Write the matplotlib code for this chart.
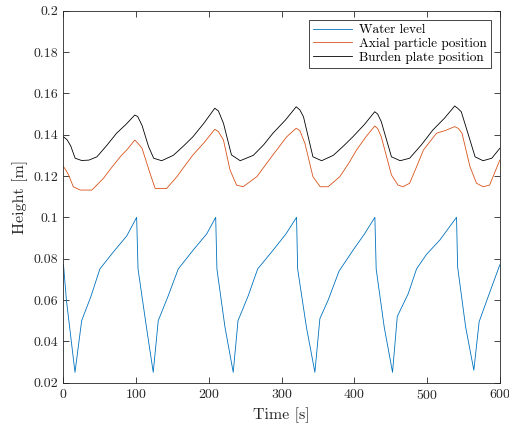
import matplotlib
matplotlib.use('Agg')
import matplotlib.pyplot as plt

# values
water_t = [0, 4, 15.8, 25, 38, 50, 68, 87, 100.6, 102.5, 114, 123.4,
           130.3, 144, 157.8, 178, 197, 209.3, 211, 222, 233.4,
           240, 254, 267, 288, 306, 320.5, 322, 334, 345.7,
           352.6, 364, 379, 398, 414, 428.2, 430, 441, 452.5,
           459, 474, 485.5, 499, 517.5, 540.5, 542, 553, 564.3,
           571.6, 584, 600]
water_h = [0.077, 0.06, 0.025, 0.05, 0.062, 0.075, 0.083, 0.091, 0.1, 0.075, 0.047, 0.025,
           0.05, 0.062, 0.075, 0.084, 0.092, 0.1, 0.075, 0.047, 0.025,
           0.05, 0.062, 0.075, 0.084, 0.092, 0.1, 0.075, 0.047, 0.025,
           0.051, 0.060, 0.074, 0.084, 0.092, 0.1, 0.075, 0.047, 0.025,
           0.052, 0.063, 0.075, 0.082, 0.089, 0.1, 0.076, 0.047, 0.026,
           0.0495, 0.0616, 0.077]

particle_t = [0, 3, 7, 13.5, 23, 39, 55, 66, 78, 88, 98, 102, 108, 119, 126,
              142, 156, 167, 178, 193, 208, 213, 220, 229, 238, 247,
              266, 277, 288, 307, 320, 325, 332, 343, 353, 364,
              380, 392, 403, 416, 428, 432, 437, 451, 460, 467,
              476, 485, 495, 513, 525, 538, 543, 548, 559, 568, 577, 586, 600]
particle_h = [0.1245, 0.123, 0.1205, 0.1148, 0.1132, 0.1132, 0.1189, 0.124, 0.1293, 0.133,
              0.1374, 0.136, 0.1334, 0.1213, 0.114,
              0.114, 0.1197, 0.125, 0.1302, 0.136, 0.1426, 0.1415, 0.1374, 0.1229, 0.1156, 0.1148,
              0.1197, 0.125, 0.1302, 0.139, 0.1431, 0.142, 0.1358, 0.1197, 0.1148, 0.1148,
              0.1197, 0.126, 0.1326, 0.139, 0.1442, 0.143, 0.139, 0.1205, 0.1156, 0.1148,
              0.1165, 0.124, 0.1326, 0.1407, 0.142, 0.1439, 0.143, 0.1407, 0.1245, 0.1165,
              0.1148, 0.1156, 0.1277]

plate_t = [0, 5, 10, 16, 25, 35, 46, 60, 73, 86, 98, 102, 108, 117, 124,
           135, 151, 165, 178, 193, 208, 213, 220, 231, 243,
           261, 275, 288, 305, 320, 325, 330, 343, 355,
           371, 385, 398, 414, 428, 432, 437, 451, 463,
           476, 492, 508, 524, 538, 542, 547, 559, 566, 577, 589, 600]
plate_h = [0.139, 0.1375, 0.1345, 0.1286, 0.1275, 0.1277, 0.1293, 0.135, 0.1407, 0.145,
           0.1495, 0.1488, 0.1445, 0.1342, 0.1286,
           0.1274, 0.130, 0.1345, 0.139, 0.1455, 0.1528, 0.1515, 0.1455, 0.1302, 0.1274,
           0.130, 0.135, 0.1407, 0.147, 0.1535, 0.152, 0.1487, 0.1293, 0.1274,
           0.130, 0.1345, 0.139, 0.145, 0.1511, 0.150, 0.1463, 0.1293, 0.1274,
           0.1286, 0.135, 0.1423, 0.148, 0.1539, 0.1528, 0.1511, 0.1374, 0.1293, 0.1274,
           0.1286, 0.1334]

labels = ['Water level', 'Axial particle position', 'Burden plate position']
colors = ['#0072BD', '#D95319', 'black']

plt.rcParams['font.family'] = 'serif'
plt.rcParams['font.serif'] = ['cmr10', 'DejaVu Serif']
plt.rcParams['mathtext.fontset'] = 'cm'
plt.rcParams['axes.formatter.use_mathtext'] = True

fig = plt.figure(figsize=(5.1, 4.28), dpi=100)
ax = fig.add_axes([0.1245, 0.106, 0.8555, 0.869])

ax.plot(water_t, water_h, color=colors[0], lw=0.6, label=labels[0])
ax.plot(particle_t, particle_h, color=colors[1], lw=0.6, label=labels[1])
ax.plot(plate_t, plate_h, color=colors[2], lw=0.6, label=labels[2])

ax.set_xlim(0, 600)
ax.set_ylim(0.02, 0.2)
ax.set_xticks(range(0, 601, 100))
ax.set_yticks([0.02, 0.04, 0.06, 0.08, 0.1, 0.12, 0.14, 0.16, 0.18, 0.2])
ax.set_yticklabels(['0.02', '0.04', '0.06', '0.08', '0.1', '0.12', '0.14', '0.16', '0.18', '0.2'])

ax.tick_params(direction='in', top=True, right=True, length=4, width=0.6,
               labelsize=10, colors='#262626', pad=4)
for s in ax.spines.values():
    s.set_linewidth(0.6)
    s.set_color('#262626')

ax.set_xlabel('Time [s]', fontsize=11.5, color='#262626')
ax.set_ylabel('Height [m]', fontsize=11.5, color='#262626')

leg = ax.legend(loc='upper right', fontsize=9.5, handlelength=3.0, fancybox=False,
                framealpha=1, edgecolor='#262626', borderpad=0.3, labelspacing=0.1,
                handletextpad=0.5, borderaxespad=0.7)
leg.get_frame().set_linewidth(0.6)

fig.savefig('out.png', dpi=100)
